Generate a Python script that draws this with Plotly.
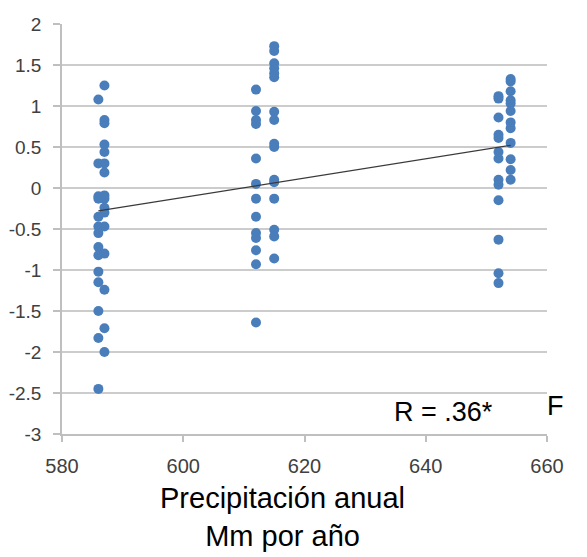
import plotly.graph_objects as go

# Data
x_groups = [586, 587, 612, 615, 652, 654]
y_586 = [1.08, 0.30, -0.10, -0.13, -0.35, -0.47, -0.55, -0.72, -0.82, -1.02, -1.15, -1.50, -1.83, -2.45]
y_587 = [1.25, 0.83, 0.79, 0.53, 0.44, 0.30, 0.19, -0.09, -0.13, -0.24, -0.30, -0.47, -0.80, -1.24, -1.71, -2.00]
y_612 = [1.20, 0.94, 0.83, 0.78, 0.36, 0.05, -0.13, -0.35, -0.55, -0.61, -0.76, -0.93, -1.64]
y_615 = [1.73, 1.67, 1.52, 1.46, 1.40, 1.35, 0.93, 0.83, 0.54, 0.50, 0.10, 0.07, -0.13, -0.51, -0.59, -0.86]
y_652 = [1.12, 1.09, 0.86, 0.65, 0.61, 0.44, 0.36, 0.10, 0.04, -0.15, -0.63, -1.04, -1.16]
y_654 = [1.33, 1.30, 1.18, 1.07, 1.03, 0.94, 0.80, 0.73, 0.55, 0.35, 0.22, 0.10]

trend_x = [586, 654]
trend_y = [-0.28, 0.52]

x_ticks = [580, 600, 620, 640, 660]
y_ticks = [2, 1.5, 1, 0.5, 0, -0.5, -1, -1.5, -2, -2.5, -3]
y_tick_labels = ["2", "1.5", "1", "0.5", "0", "-0.5", "-1", "-1.5", "-2", "-2.5", "-3"]

annotation_r = "R = .36*"
annotation_f = "F"
x_title = "Precipitación anual<br>Mm por año"

groups = [y_586, y_587, y_612, y_615, y_652, y_654]
xs, ys = [], []
for gx, gy in zip(x_groups, groups):
    xs += [gx] * len(gy)
    ys += gy

fig = go.Figure()
fig.add_trace(go.Scatter(x=xs, y=ys, mode="markers",
                         marker=dict(color="#4a7ebb", size=10, line=dict(width=0)),
                         showlegend=False))
fig.add_trace(go.Scatter(x=trend_x, y=trend_y, mode="lines",
                         line=dict(color="#3a3a3a", width=1.3), showlegend=False))

grid = "#cccccc"
fig.update_layout(
    width=587, height=557,
    margin=dict(l=62, r=40, t=24, b=123),
    paper_bgcolor="white", plot_bgcolor="white",
    font=dict(family="Liberation Sans, Arial, sans-serif", color="#404040"),
    xaxis=dict(range=[580, 660], tickvals=x_ticks, showgrid=False, zeroline=False,
               showline=True, linecolor="#bfbfbf", linewidth=1.5, automargin=False,
               ticks="outside", ticklen=6, tickcolor="#bfbfbf", tickwidth=1.5,
               tickfont=dict(size=20, color="#404040"), ticklabelstandoff=7),
    yaxis=dict(range=[-3, 2], tickvals=y_ticks, ticktext=y_tick_labels,
               showgrid=True, gridcolor=grid, gridwidth=1.5, zeroline=False,
               showline=True, linecolor="#bfbfbf", linewidth=1.5, automargin=False,
               ticks="outside", ticklen=7, tickcolor="#bfbfbf", tickwidth=1.5,
               tickfont=dict(size=19, color="#404040"), ticklabelstandoff=8),
    annotations=[
        dict(text=annotation_r, x=643, y=-2.73, xref="x", yref="y", showarrow=False,
             font=dict(size=27, color="black"), xanchor="center", yanchor="middle"),
        dict(text=annotation_f, x=1.0165, y=-2.66, xref="paper", yref="y", showarrow=False,
             font=dict(size=27, color="black"), xanchor="center", yanchor="middle"),
        dict(text=x_title, x=0.454, y=-0.2024, xref="paper", yref="paper", showarrow=False,
             font=dict(size=29, color="black"), xanchor="center", yanchor="middle"),
    ],
)

fig.write_html("out.html")
